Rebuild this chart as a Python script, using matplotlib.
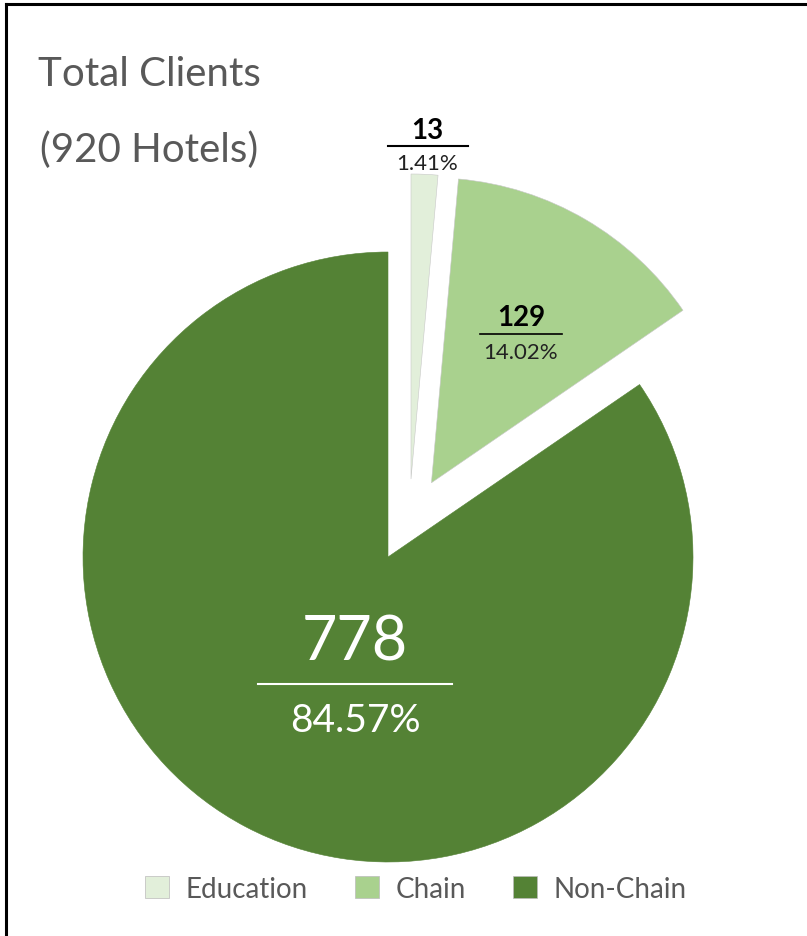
# Total Clients pie chart
import matplotlib.pyplot as plt
from matplotlib.lines import Line2D
from matplotlib.patches import Patch

plt.rcParams['font.family'] = ['Lato', 'DejaVu Sans']

categories = ['Education', 'Chain', 'Non-Chain']
counts = [13, 129, 778]
percents = ['1.41%', '14.02%', '84.57%']
colors = ['#E2EFDA', '#A9D18E', '#548235']

fig = plt.figure(figsize=(8.07, 9.37), dpi=100)
ax = fig.add_axes([0, 0, 1, 1])

# pixel coordinates: origin bottom-left
cx, cy, r = 388, 937 - 558, 305
wedges, _ = ax.pie(counts, colors=colors, startangle=90, counterclock=False,
                   center=(cx, cy), radius=r, explode=[80, 86, 0],
                   wedgeprops=dict(edgecolor='#c8c8c8', linewidth=0.4))
wedges[2].set_edgecolor('#548235')
# excel pushes the small slice a bit more to the right
wedges[0].set_center((cx + 23, cy + 78))
ax.set_xlim(0, 807)
ax.set_ylim(0, 937)
ax.set_aspect('equal')
ax.axis('off')

# data labels
ax.text(427, 937 - 131, str(counts[0]), ha='center', va='center', fontsize=20, fontweight='bold')
ax.add_line(Line2D([388, 468], [937 - 147, 937 - 147], color='black', lw=1.5))
ax.text(427, 937 - 164, percents[0], ha='center', va='center', fontsize=16, color='#222222')

ax.text(521, 937 - 318, str(counts[1]), ha='center', va='center', fontsize=20, fontweight='bold')
ax.add_line(Line2D([480, 562], [937 - 335, 937 - 335], color='black', lw=1.2))
ax.text(521, 937 - 353, percents[1], ha='center', va='center', fontsize=16, color='#222222')

ax.text(355, 937 - 643, str(counts[2]), ha='center', va='center', fontsize=44, color='white')
ax.add_line(Line2D([258, 452], [937 - 685, 937 - 685], color='white', lw=1.5))
ax.text(355, 937 - 721, percents[2], ha='center', va='center', fontsize=28, color='white')

# titel
ax.text(38, 937 - 75, 'Total Clients', ha='left', va='center', fontsize=29, color='#595959')
ax.text(40, 937 - 150, '(920 Hotels)', ha='left', va='center', fontsize=29, color='#595959')

# legend
handles = [Patch(facecolor=c, edgecolor='#bbbbbb', linewidth=0.5) for c in colors]
ax.legend(handles, categories, loc='center', bbox_to_anchor=(416 / 807, 1 - 890 / 937),
          ncol=3, frameon=False, fontsize=20, labelcolor='#595959',
          handlelength=0.85, handleheight=0.85, columnspacing=1.7, handletextpad=0.6)

# frame lines
ax.add_line(Line2D([6, 6], [0, 932], color='black', lw=2.2))
ax.add_line(Line2D([6, 807], [932, 932], color='black', lw=2.2))

fig.savefig('out.png', dpi=100)
